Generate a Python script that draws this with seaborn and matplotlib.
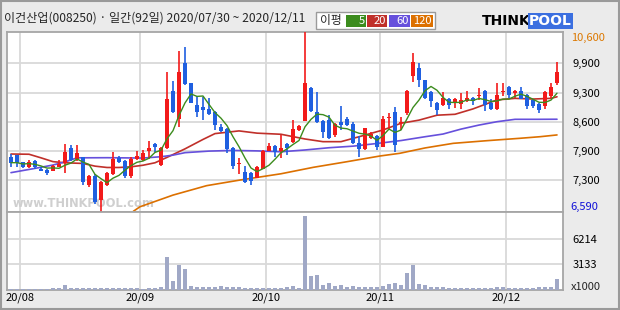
import numpy as np
import pandas as pd
import matplotlib
matplotlib.use("Agg")
import matplotlib.pyplot as plt
import seaborn as sns
from matplotlib.patches import Rectangle

# ---------------- data ----------------
title = "이건산업(008250) · 일간(92일) 2020/07/30 ~ 2020/12/11"
month_labels = ["20/08", "20/09", "20/10", "20/11", "20/12"]
month_first_idx = [2, 22, 43, 62, 83]

opens = [7816, 7853, 7690, 7578, 7719, 7548, 7519, 7504, 7593, 7667,
         8016, 7756, 7801, 7184, 7392, 6850, 7184, 7422, 7779, 7719,
         7392, 7756, 7741, 7949, 8098, 7630, 8001, 9279, 8662, 9903,
         9465, 8967, 8930, 8878, 8811, 8484, 8440, 8009, 7645, 7474,
         7459, 7348, 7548, 7949, 8053, 7935, 8098, 8150, 8410, 8618,
         9346, 8811, 8610, 8633, 8298, 8581, 8648, 8544, 8113, 7979,
         8224, 8276, 8038, 8677, 8811, 8566, 8796, 9620, 9799, 9524,
         9249, 9019, 8967, 9101, 9019, 8989, 9056, 9130, 9175, 9279,
         9019, 8870, 9257, 9375, 9242, 9279, 9190, 9078, 8989, 8945,
         9175, 9465]
highs = [7875, 7860, 7704, 7741, 7741, 7578, 7534, 7630, 7741, 8098,
         8076, 8076, 7816, 7407, 7430, 7281, 7481, 7912, 7831, 7741,
         7816, 7949, 7964, 8165, 8113, 8038, 9710, 9502, 10170, 10267,
         9465, 9175, 9153, 9115, 8826, 8544, 8455, 8024, 7779, 7608,
         7474, 7608, 7964, 8113, 8068, 8290, 8113, 8633, 8521, 10600,
         9360, 9249, 8633, 8744, 8559, 8937, 8707, 8596, 8276, 8462,
         8373, 8298, 8722, 8781, 8915, 8692, 9301, 10118, 9895, 9530,
         9279, 9034, 9257, 9115, 9130, 9227, 9279, 9145, 9338, 9294,
         9101, 9465, 9450, 9390, 9301, 9375, 9205, 9093, 9004, 9279,
         9450, 9932]
lows = [7593, 7593, 7556, 7563, 7534, 7489, 7407, 7489, 7578, 7459,
        7726, 7726, 7184, 7132, 6761, 6590, 7170, 7407, 7682, 7333,
        7333, 7741, 7726, 7756, 7927, 7615, 7979, 8796, 8484, 9413,
        9004, 8707, 8633, 8744, 8410, 8373, 7890, 7534, 7422, 7222,
        7184, 7333, 7534, 7935, 7816, 7790, 7853, 8128, 8395, 8603,
        8811, 8573, 8239, 8209, 8261, 8410, 8499, 8098, 7816, 7964,
        8209, 7964, 8023, 8410, 7927, 8410, 8752, 9472, 9375, 9101,
        8930, 8744, 8952, 8885, 8907, 8878, 9041, 8967, 9078, 8841,
        8863, 8856, 9167, 9115, 9115, 9093, 8885, 8900, 8796, 8878,
        9115, 9413]
closes = [7682, 7682, 7593, 7690, 7578, 7504, 7444, 7608, 7652, 7920,
          7741, 7905, 7259, 7392, 6813, 7259, 7459, 7764, 7704, 7392,
          7764, 7831, 7905, 8016, 8038, 8016, 9093, 8811, 9710, 9435,
          9019, 8818, 8856, 8774, 8521, 8395, 7994, 7615, 7667, 7259,
          7281, 7593, 7942, 8053, 7927, 8009, 8016, 8432, 8499, 9450,
          8841, 8596, 8373, 8224, 8544, 8529, 8521, 8113, 7979, 8447,
          8321, 8038, 8648, 8700, 8076, 8588, 9279, 9918, 9524, 9115,
          9063, 8856, 9130, 8967, 9101, 9078, 9130, 9063, 9190, 8967,
          8878, 9190, 9271, 9190, 9286, 9108, 8945, 8945, 8856, 9264,
          9375, 9710]
volume_k = [110, 110, 110, 110, 110, 110, 110, 160, 260, 600,
            260, 260, 210, 160, 260, 260, 210, 160, 160, 160,
            160, 160, 110, 260, 210, 360, 4000, 1080, 3000, 2500,
            450, 400, 400, 400, 360, 450, 360, 310, 310, 260,
            260, 210, 160, 160, 260, 260, 310, 450, 260, 9100,
            1670, 1810, 600, 790, 450, 600, 400, 450, 400, 360,
            360, 360, 450, 650, 790, 600, 2010, 3000, 700, 550,
            310, 360, 310, 260, 260, 260, 260, 260, 260, 260,
            260, 360, 310, 210, 210, 260, 260, 260, 310, 360,
            360, 1280]

ma20_x = [0, 3, 5, 7, 9, 12, 14, 16, 18, 20, 22, 24, 26, 29, 32, 34, 38, 41,
          45, 49, 52, 55, 58, 62, 65, 68, 71, 74, 77, 79, 81, 84, 87, 90, 91]
ma20_v = [7875, 7870, 7790, 7705, 7680, 7665, 7605, 7575, 7575, 7590, 7625,
          7680, 7800, 7990, 8200, 8330, 8390, 8340, 8315, 8210, 8150, 8150,
          8260, 8410, 8560, 8630, 8740, 8760, 8880, 8980, 9080, 9115, 9100,
          9115, 9150]
ma60_x = [0, 4, 7, 9, 11, 16, 22, 25, 27, 29, 33, 37, 41, 45, 49, 53, 57, 61,
          65, 69, 72, 75, 78, 81, 84, 88, 91]
ma60_v = [7460, 7555, 7630, 7700, 7790, 7793, 7785, 7815, 7850, 7905, 7940,
          7955, 7945, 7925, 7965, 8015, 8050, 8110, 8175, 8260, 8320, 8430,
          8520, 8595, 8648, 8648, 8650]
ma120_x = [20.4, 21.5, 27, 32.6, 38.2, 45, 50.4, 56, 61.5, 64.8, 69, 73.7,
           79.3, 84.8, 88.2, 91]
ma120_v = [6600, 6700, 6960, 7170, 7296, 7435, 7579, 7704, 7831, 7891, 8010,
           8113, 8172, 8225, 8261, 8300]

price_min, price_max = 6590, 10600
price_ticks = [9896, 9245, 8595, 7944, 7294]
price_tick_labels = ["9,900", "9,300", "8,600", "7,900", "7,300"]
vol_ticks = [3133, 6214]
vol_top = 9570

ma_periods = ["5", "20", "60", "120"]
ma_colors = ["#3c8c1e", "#c0302a", "#6650dc", "#dc7000"]

# ---------------- styling ----------------
sns.set_theme(style="white")
plt.rcParams["font.family"] = ["Noto Sans CJK KR", "DejaVu Sans"]

W, H = 620, 310
BG = "#ebebeb"
fig = plt.figure(figsize=(W / 100, H / 100), dpi=100, facecolor=BG)


def fx(x):
    return x / W


def fy(y):
    return (H - y) / H


left, right = 7.3, 562.7
ax = fig.add_axes([fx(left), fy(211.7), fx(right - left), (211.7 - 31.7) / H])
axv = fig.add_axes([fx(left), fy(289.8), fx(right - left), (289.8 - 211.7) / H])

df = pd.DataFrame({"o": opens, "h": highs, "l": lows, "c": closes, "v": volume_k})
df["i"] = np.arange(len(df))
up = df["c"] >= df["o"]
cols = np.where(up, "#f21a1a", "#1f5fe0")

# watermark (behind the candles)
ax.text(fx(84 - left) / fx(right - left), 0.045, "www.THINKPOOL.com",
        transform=ax.transAxes, ha="center", va="center", fontsize=8.3,
        fontweight="bold", color="#cfcfcf", zorder=1, family=["DejaVu Sans"])

# candles
ax.vlines(df["i"], df["l"], df["h"], colors=cols, lw=1.2, zorder=3)
body_bottom = np.minimum(df["o"], df["c"])
body_h = np.maximum((df["c"] - df["o"]).abs(), 24)
ax.bar(df["i"], body_h, bottom=body_bottom, width=0.74, color=cols, lw=0, zorder=4)

# moving averages
ma5 = df["c"].rolling(5, min_periods=1).mean()
sns.lineplot(x=df["i"], y=ma5, ax=ax, color=ma_colors[0], lw=1.0, zorder=5)
sns.lineplot(x=ma20_x, y=ma20_v, ax=ax, color=ma_colors[1], lw=1.2, zorder=2)
sns.lineplot(x=ma60_x, y=ma60_v, ax=ax, color=ma_colors[2], lw=1.2, zorder=2)
sns.lineplot(x=ma120_x, y=ma120_v, ax=ax, color=ma_colors[3], lw=1.2, zorder=2)

# volume
sns.barplot(x=df["i"], y=df["v"], ax=axv, native_scale=True, color="#a0a8c6",
            saturation=1, width=0.7, linewidth=0, zorder=3)

xlo = (left - 11) / 6
xhi = (right - 11) / 6
month_pos = [m - 0.5 for m in month_first_idx]

for a in (ax, axv):
    a.set_xlim(xlo, xhi)
    a.set_facecolor("white")
    for s in a.spines.values():
        s.set_color("#a6a6a6")
        s.set_linewidth(1.3)
    a.set_xlabel("")
    a.set_ylabel("")
    a.set_xticks(month_pos)
    a.grid(True, color="#d9d9d9", lw=1.3, zorder=0)
    a.set_axisbelow(True)
    a.yaxis.tick_right()
    a.tick_params(axis="both", length=0, labelsize=8, colors="black")

ax.set_ylim(price_min, price_max)
ax.set_yticks(price_ticks)
ax.set_yticklabels(price_tick_labels)
ax.tick_params(axis="y", pad=7)
ax.tick_params(axis="x", labelbottom=False)

axv.set_ylim(0, vol_top)
axv.set_yticks(vol_ticks)
axv.set_yticklabels([str(v) for v in vol_ticks])
axv.tick_params(axis="y", pad=7)
axv.set_xticklabels(month_labels)
axv.tick_params(axis="x", pad=2)

# range labels
ax.annotate(f"{price_max:,}", xy=(1, 1), xycoords="axes fraction",
            xytext=(8, -1), textcoords="offset pixels", ha="left", va="top",
            fontsize=8, color="#dc7800")
ax.annotate(f"{price_min:,}", xy=(1, 0), xycoords="axes fraction",
            xytext=(8, 0), textcoords="offset pixels", ha="left", va="bottom",
            fontsize=8, color="#1010d8")
fig.text(fx(571), fy(287), "x1000", ha="left", va="center", fontsize=8)

# header
fig.text(fx(4), fy(18), title, ha="left", va="center", fontsize=8.7)

fig.patches.append(Rectangle((fx(316), fy(29)), fx(119), 17 / H, transform=fig.transFigure,
                             facecolor="white", edgecolor="#9a9a9a", lw=1))
fig.text(fx(331), fy(20.5), "이평", ha="center", va="center", fontsize=8.5)
box_x = [346, 367, 389, 411]
box_w = [20, 20, 21, 22]
for bx, bw, lab, colr in zip(box_x, box_w, ma_periods, ma_colors):
    fig.patches.append(Rectangle((fx(bx), fy(26.7)), fx(bw), 11.4 / H,
                                 transform=fig.transFigure, facecolor=colr, lw=0))
    fig.text(fx(bx + bw - 1), fy(21), lab, ha="right", va="center",
             fontsize=8, color="white")

# logo
fig.text(fx(482), fy(21), "THINK", ha="left", va="center", fontsize=10,
         fontweight="bold", color="black", family=["DejaVu Sans"])
fig.text(fx(529), fy(21), "POOL", ha="left", va="center", fontsize=10,
         fontweight="bold", color="white", family=["DejaVu Sans"],
         bbox=dict(boxstyle="square,pad=0.05", facecolor="#3b6fe0", edgecolor="none"))

fig.patches.append(Rectangle((0.001, 0.002), 0.997, 0.995, transform=fig.transFigure,
                             fill=False, edgecolor="#9a9a9a", lw=1.5))

fig.savefig("out.png", dpi=100, facecolor=BG)
